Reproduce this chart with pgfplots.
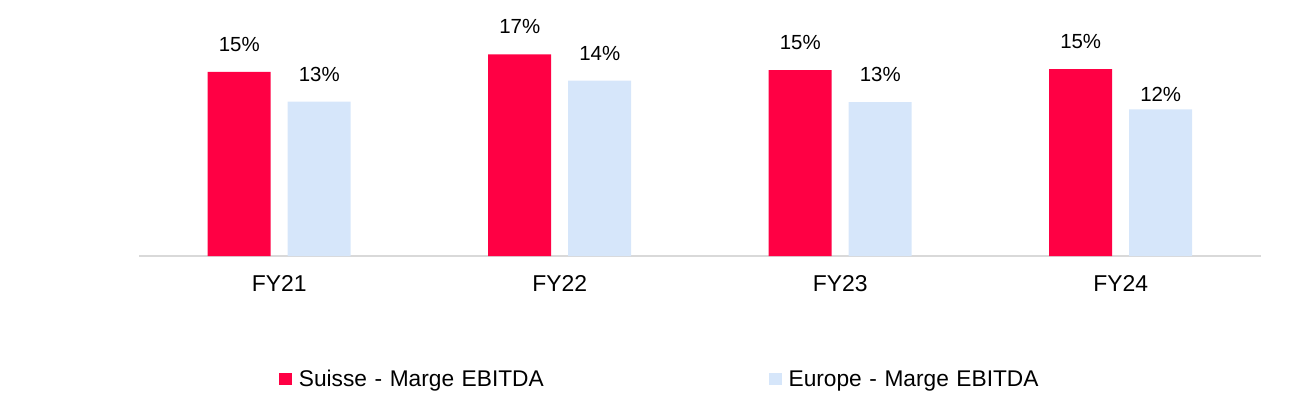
\documentclass[border=0pt]{standalone}
\usepackage{pgfplots}
\pgfplotsset{compat=1.18}
\usepackage{pgfplotstable}
\usepackage{fontspec}
\setmainfont{Liberation Sans}
\definecolor{cred}{RGB}{255,0,68}
\definecolor{cblue}{RGB}{214,230,250}
\definecolor{cax}{RGB}{217,217,217}
\pgfplotstableread{
x y lab off
0 15.11 15 20
1 16.56 17 20
2 15.27 15 20
3 15.35 15 20
}\suisse
\pgfplotstableread{
x y lab off
0 12.67 13 20
1 14.39 14 20
2 12.64 13 20
3 12.04 12 7.6
}\europe
\begin{document}
\begin{tikzpicture}
\begin{axis}[
  at={(139bp,156bp)}, anchor=south west,
  scale only axis, width=1122bp, height=236bp,
  xmin=-0.5, xmax=3.5, ymin=0, ymax=19.376,
  clip=false,
  axis y line=none,
  axis x line*=bottom,
  axis line style={draw=cax, line width=1.2bp},
  xtick={0,1,2,3}, xticklabels={FY21,FY22,FY23,FY24},
  major tick length=0pt,
  xticklabel style={font=\fontsize{23}{27}\selectfont, inner sep=0pt, anchor=north, yshift=-19.7bp},
  legend columns=2,
  legend cell align=left,
  legend style={at={(0.1248,-0.5212)}, anchor=west, draw=none, fill=none,
    inner sep=0pt, column sep=0pt,
    nodes={inner sep=0pt, text width=470bp, font=\fontsize{22.8}{26}\selectfont}},
  legend image code/.code={\fill[#1] (0bp,-5.8bp) rectangle (12.7bp,5.8bp); \path (19.7bp,0bp);},
  point meta=explicit symbolic,
  nodes near coords={\pgfplotspointmeta\%},
  visualization depends on={\thisrow{off}\as\off},
  every node near coord/.append style={font=\fontsize{20.5}{24}\selectfont, anchor=south, inner sep=0pt, yshift=\off*1bp, text=black},
]
\addplot[ybar, bar width=63bp, bar shift=-40bp, fill=cred, draw=none,
  every node near coord/.append style={xshift=-40bp}] table[x=x, y=y, meta=lab]{\suisse};
\addlegendentry{Suisse - Marge EBITDA}
\addplot[ybar, bar width=63bp, bar shift=40bp, fill=cblue, draw=none,
  every node near coord/.append style={xshift=40bp}] table[x=x, y=y, meta=lab]{\europe};
\addlegendentry{Europe - Marge EBITDA}
\end{axis}
\pgfresetboundingbox
\path[use as bounding box] (0bp,0bp) rectangle (1294bp,412bp);
\end{tikzpicture}
\end{document}
